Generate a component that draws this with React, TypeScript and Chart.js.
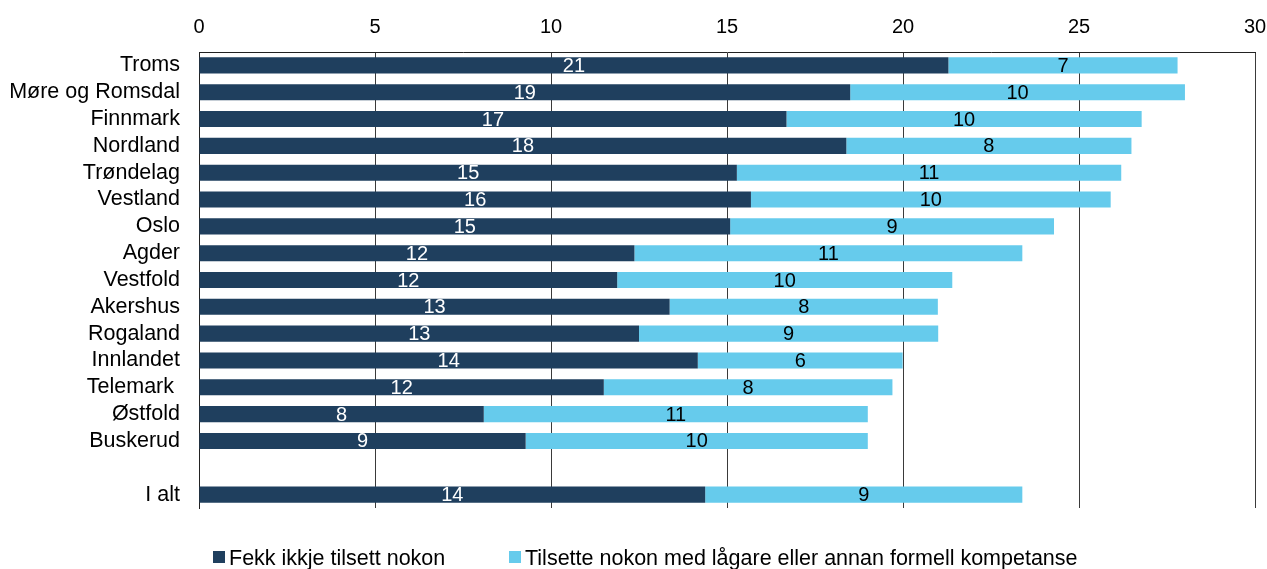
import React, { useEffect, useRef } from "react";
import { Chart, registerables } from "chart.js";

Chart.register(...registerables);

const categories = [
  "Troms",
  "Møre og Romsdal",
  "Finnmark",
  "Nordland",
  "Trøndelag",
  "Vestland",
  "Oslo",
  "Agder",
  "Vestfold",
  "Akershus",
  "Rogaland",
  "Innlandet",
  "Telemark ",
  "Østfold",
  "Buskerud",
  "",
  "I alt",
];

const seriesNames = [
  "Fekk ikkje tilsett nokon",
  "Tilsette nokon med lågare eller annan formell kompetanse",
];

const fekkIkkje = [21.29, 18.5, 16.69, 18.39, 15.28, 15.68, 15.09, 12.37, 11.88, 13.37, 12.5, 14.17, 11.5, 8.09, 9.28, null, 14.38];
const tilsette = [6.51, 9.51, 10.09, 8.1, 10.92, 10.22, 9.2, 11.02, 9.52, 7.62, 8.5, 5.82, 8.2, 10.91, 9.72, null, 9.01];

const xTicks = [0, 5, 10, 15, 20, 25, 30];

const DARK = "#1f3f5e";
const LIGHT = "#66cbec";
const FONT = "'Liberation Sans', Arial, sans-serif";

const labelPlugin = {
  id: "segLabels",
  afterDatasetsDraw(chart: any) {
    const ctx = chart.ctx;
    ctx.save();
    ctx.font = `20px ${FONT}`;
    ctx.textAlign = "center";
    ctx.textBaseline = "middle";
    chart.data.datasets.forEach((ds: any, di: number) => {
      const meta = chart.getDatasetMeta(di);
      meta.data.forEach((bar: any, i: number) => {
        const v = ds.data[i];
        if (v === null || v === undefined) return;
        const cx = (bar.x + bar.base) / 2;
        ctx.fillStyle = di === 0 ? "#ffffff" : "#000000";
        ctx.fillText(String(Math.round(v)), cx, bar.y + 1);
      });
    });
    ctx.restore();
  },
};

export default function App() {
  const ref = useRef<HTMLCanvasElement | null>(null);

  useEffect(() => {
    if (!ref.current) return;
    const chart = new Chart(ref.current, {
      type: "bar",
      data: {
        labels: categories,
        datasets: [
          {
            label: seriesNames[0],
            data: fekkIkkje as any,
            backgroundColor: DARK,
            borderWidth: 0,
            categoryPercentage: 0.6,
            barPercentage: 1,
          },
          {
            label: seriesNames[1],
            data: tilsette as any,
            backgroundColor: LIGHT,
            borderWidth: 0,
            categoryPercentage: 0.6,
            barPercentage: 1,
          },
        ],
      },
      options: {
        indexAxis: "y",
        responsive: true,
        maintainAspectRatio: false,
        animation: false,
        layout: { padding: { left: 0, right: 12, top: 0, bottom: 61 } },
        plugins: {
          legend: { display: false },
          tooltip: { enabled: false },
        },
        scales: {
          x: {
            position: "top",
            stacked: true,
            min: 0,
            max: 30,
            afterBuildTicks: (scale: any) => {
              scale.ticks = xTicks.map((v) => ({ value: v }));
            },
            afterFit: (scale: any) => {
              scale.height = 52;
              scale.paddingRight = 0;
              scale.paddingLeft = 0;
            },
            ticks: {
              color: "#000",
              font: { family: FONT, size: 20 },
              padding: 13,
              maxRotation: 0,
            },
            grid: { color: "#3a3a3a", lineWidth: 1, drawTicks: false },
            border: { display: true, color: "#222", width: 1 },
          },
          y: {
            stacked: true,
            afterFit: (scale: any) => {
              scale.width = 199;
            },
            ticks: {
              color: "#000",
              font: { family: FONT, size: 21.5 },
              padding: 19,
              autoSkip: false,
            },
            grid: { display: false, drawTicks: false },
            border: { display: true, color: "#222", width: 1 },
          },
        },
      },
      plugins: [labelPlugin],
    });
    return () => chart.destroy();
  }, []);

  const legendText: React.CSSProperties = {
    fontFamily: FONT,
    fontSize: 21.5,
    lineHeight: "24px",
    color: "#000",
    whiteSpace: "nowrap",
  };
  const box = (c: string): React.CSSProperties => ({
    display: "inline-block",
    width: 12,
    height: 12,
    background: c,
    marginRight: 4,
    verticalAlign: "middle",
    position: "relative",
    top: -1,
  });

  return (
    <div style={{ position: "absolute", left: 0, top: 0, width: 1267, height: 569, overflow: "hidden" }}>
      <canvas ref={ref} />
      <div style={{ position: "absolute", left: 213, top: 545, ...legendText }}>
        <span style={box(DARK)} />
        <span style={{ verticalAlign: "middle" }}>{seriesNames[0]}</span>
      </div>
      <div style={{ position: "absolute", left: 509, top: 545, ...legendText }}>
        <span style={box(LIGHT)} />
        <span style={{ verticalAlign: "middle" }}>{seriesNames[1]}</span>
      </div>
    </div>
  );
}
